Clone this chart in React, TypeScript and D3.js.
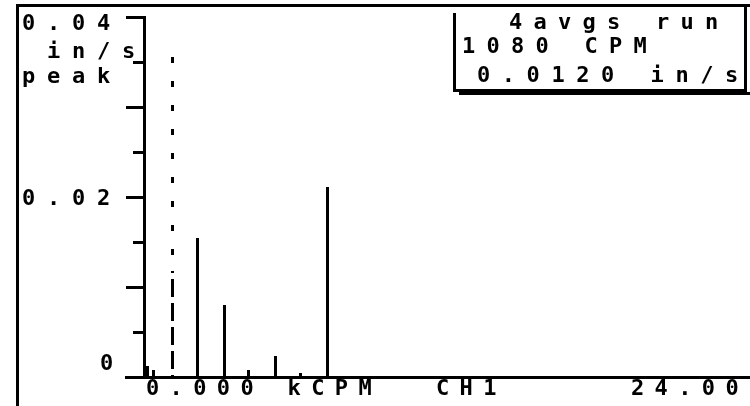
import React, { useEffect, useRef } from 'react';
import { select, scaleLinear, range } from 'd3';

// spectrum lines
const freqs = [0, 0.28, 1.08, 2.1, 3.23, 4.25, 5.41, 6.45, 7.56]; // kCPM
const amps = [0.0012, 0.0008, 0.0118, 0.0154, 0.008, 0.0008, 0.0023, 0.0005, 0.0211]; // in/s peak
const cursorFreq = 1.08;
const cursorTop = 0.0356;

const yTickLabels = ['0', '0.02', '0.04'];
const yUnitLabels = ['in/s', 'peak'];
const xLabels = ['0.000 kCPM', 'CH1', '24.00'];
const boxLines = ['4avgs run', '1080 CPM', '0.0120 in/s'];

const W = 750;
const H = 406;
const FONT = '"DejaVu Sans Mono", monospace';

const App = () => {
  const svgRef = useRef(null);

  useEffect(() => {
    const svg = select(svgRef.current);
    svg.selectAll('*').remove();

    const x = scaleLinear().domain([0, 24]).range([146.8, 717.3]);
    const y = scaleLinear().domain([0, 0.04]).range([377, 17]);
    const px = (v) => Math.round(v) + 0.5;

    svg.append('rect').attr('width', W).attr('height', H).attr('fill', '#fff');

    const g = svg.append('g').attr('shape-rendering', 'crispEdges').attr('stroke', '#000');

    // screen frame
    g.append('line').attr('x1', 17.5).attr('x2', 17.5).attr('y1', 5).attr('y2', H).attr('stroke-width', 3);
    g.append('line').attr('x1', 16).attr('x2', W).attr('y1', 5.5).attr('y2', 5.5).attr('stroke-width', 3);

    // axes
    g.append('line').attr('x1', px(144)).attr('x2', px(144)).attr('y1', y(0.04) - 1).attr('y2', y(0) + 2).attr('stroke-width', 3);
    g.append('line').attr('x1', 125).attr('x2', W).attr('y1', px(y(0))).attr('y2', px(y(0))).attr('stroke-width', 3);

    const ticks = range(1, 9).map((i) => i * 0.005);
    g.selectAll('.tick')
      .data(ticks)
      .join('line')
      .attr('class', 'tick')
      .attr('x1', (d, i) => (i % 2 === 1 ? 126 : 133))
      .attr('x2', 144)
      .attr('y1', (d) => px(y(d)))
      .attr('y2', (d) => px(y(d)))
      .attr('stroke-width', 3);

    // spectrum bars
    g.selectAll('.bar')
      .data(freqs)
      .join('line')
      .attr('class', 'bar')
      .attr('x1', (d) => px(x(d)))
      .attr('x2', (d) => px(x(d)))
      .attr('y1', y(0))
      .attr('y2', (d, i) => y(amps[i]))
      .attr('stroke-width', 3);

    // cursor, xor'ed over the bar like the instrument does
    svg
      .append('line')
      .attr('shape-rendering', 'crispEdges')
      .attr('x1', px(x(cursorFreq)))
      .attr('x2', px(x(cursorFreq)))
      .attr('y1', y(cursorTop))
      .attr('y2', y(0))
      .attr('stroke', '#fff')
      .attr('stroke-width', 3)
      .attr('stroke-dasharray', '6 18')
      .style('mix-blend-mode', 'difference');

    // readout box
    g.append('line').attr('x1', 454.5).attr('x2', 454.5).attr('y1', 13).attr('y2', 92).attr('stroke-width', 3);
    g.append('line').attr('x1', 745.5).attr('x2', 745.5).attr('y1', 5).attr('y2', 92).attr('stroke-width', 3);
    g.append('line').attr('x1', 453).attr('x2', 747).attr('y1', 90.5).attr('y2', 90.5).attr('stroke-width', 3);
    g.append('line').attr('x1', 459).attr('x2', W).attr('y1', 93.5).attr('y2', 93.5).attr('stroke-width', 3);

    // fixed-pitch screen text, one glyph per cell
    const text = (str, tx, ty, pitch) =>
      svg
        .append('text')
        .attr('x', str.split('').map((c, i) => tx + i * pitch).join(' '))
        .attr('y', ty)
        .attr('font-family', FONT)
        .attr('font-weight', 'bold')
        .attr('font-size', 22)
        .attr('fill', '#000')
        .text(str);

    text(yTickLabels[2], 22, 30, 25);
    text(yUnitLabels[0], 47, 58, 25);
    text(yUnitLabels[1], 22, 83, 25);
    text(yTickLabels[1], 22, y(0.02) + 8, 25);
    text(yTickLabels[0], 100, 370, 25);

    text(xLabels[0], 146, 395, 23.6);
    text(xLabels[1], 436, 395, 23.6);
    text(xLabels[2], 631, 395, 23.6);

    text(boxLines[0], 509, 29, 24.5);
    text(boxLines[1], 462, 53, 24.5);
    text(boxLines[2], 477, 82, 24.8);
  }, []);

  return (
    <svg
      ref={svgRef}
      width={W}
      height={H}
      style={{ position: 'absolute', left: 0, top: 0, display: 'block' }}
    />
  );
};

export default App;
